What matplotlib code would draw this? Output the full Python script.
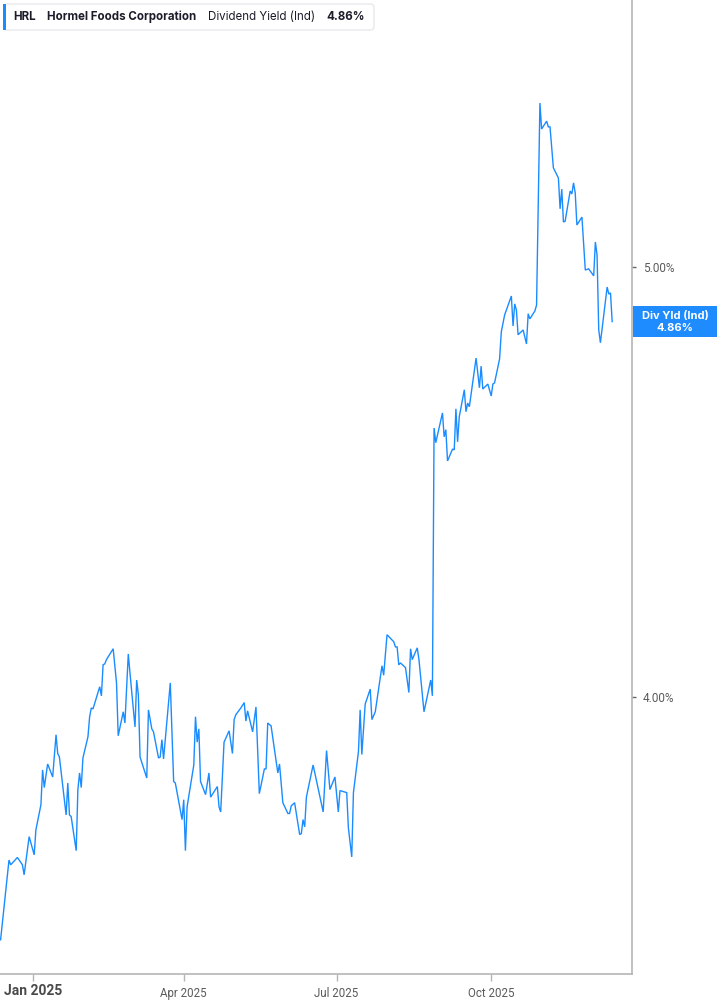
import matplotlib
matplotlib.use("Agg")
import matplotlib.pyplot as plt
import matplotlib.dates as mdates
from matplotlib.patches import FancyBboxPatch, Rectangle
from matplotlib.ticker import FixedLocator, NullLocator
import pandas as pd
import numpy as np

# ---- data ----
dates = [
    "2024-12-13", "2024-12-18", "2024-12-19", "2024-12-23", "2024-12-26", "2024-12-27", "2024-12-30",
    "2025-01-02", "2025-01-03", "2025-01-06", "2025-01-07", "2025-01-08", "2025-01-10", "2025-01-13",
    "2025-01-15", "2025-01-16", "2025-01-17", "2025-01-21", "2025-01-22", "2025-01-23", "2025-01-24",
    "2025-01-27", "2025-01-28", "2025-01-29", "2025-01-30", "2025-01-31", "2025-02-03", "2025-02-04",
    "2025-02-05", "2025-02-06", "2025-02-10", "2025-02-11", "2025-02-12", "2025-02-13", "2025-02-14",
    "2025-02-18", "2025-02-20", "2025-02-21", "2025-02-24", "2025-02-25", "2025-02-27", "2025-02-28",
    "2025-03-03", "2025-03-04", "2025-03-05", "2025-03-06", "2025-03-10", "2025-03-11", "2025-03-13",
    "2025-03-14", "2025-03-17", "2025-03-18", "2025-03-19", "2025-03-20", "2025-03-24", "2025-03-26",
    "2025-03-27", "2025-03-31", "2025-04-01", "2025-04-02", "2025-04-03", "2025-04-07", "2025-04-08",
    "2025-04-09", "2025-04-10", "2025-04-11", "2025-04-14", "2025-04-16", "2025-04-17", "2025-04-21",
    "2025-04-22", "2025-04-23", "2025-04-25", "2025-04-28", "2025-04-30", "2025-05-01", "2025-05-02",
    "2025-05-05", "2025-05-07", "2025-05-08", "2025-05-09", "2025-05-12", "2025-05-14", "2025-05-16",
    "2025-05-19", "2025-05-20", "2025-05-21", "2025-05-23", "2025-05-27", "2025-05-28", "2025-05-30",
    "2025-06-02", "2025-06-03", "2025-06-04", "2025-06-06", "2025-06-09", "2025-06-10", "2025-06-11",
    "2025-06-12", "2025-06-13", "2025-06-17", "2025-06-23", "2025-06-25", "2025-06-27", "2025-06-30",
    "2025-07-02", "2025-07-03", "2025-07-07", "2025-07-08", "2025-07-10", "2025-07-11", "2025-07-14",
    "2025-07-15", "2025-07-16", "2025-07-18", "2025-07-21", "2025-07-22", "2025-07-24", "2025-07-28",
    "2025-07-29", "2025-07-31", "2025-08-04", "2025-08-05", "2025-08-06", "2025-08-07", "2025-08-08",
    "2025-08-11", "2025-08-13", "2025-08-14", "2025-08-15", "2025-08-18", "2025-08-19", "2025-08-22",
    "2025-08-26", "2025-08-27", "2025-08-28", "2025-08-29", "2025-09-02", "2025-09-03", "2025-09-04",
    "2025-09-05", "2025-09-08", "2025-09-09", "2025-09-10", "2025-09-11", "2025-09-12", "2025-09-15",
    "2025-09-16", "2025-09-17", "2025-09-18", "2025-09-22", "2025-09-24", "2025-09-25", "2025-09-26",
    "2025-09-29", "2025-10-01", "2025-10-02", "2025-10-03", "2025-10-06", "2025-10-07", "2025-10-09",
    "2025-10-10", "2025-10-13", "2025-10-14", "2025-10-15", "2025-10-16", "2025-10-17", "2025-10-20",
    "2025-10-22", "2025-10-23", "2025-10-24", "2025-10-27", "2025-10-28", "2025-10-30", "2025-10-31",
    "2025-11-03", "2025-11-04", "2025-11-05", "2025-11-07", "2025-11-10", "2025-11-11", "2025-11-12",
    "2025-11-13", "2025-11-14", "2025-11-17", "2025-11-18", "2025-11-19", "2025-11-20", "2025-11-21",
    "2025-11-24", "2025-11-26", "2025-11-28", "2025-12-01", "2025-12-02", "2025-12-03", "2025-12-04",
    "2025-12-05", "2025-12-09", "2025-12-10", "2025-12-11", "2025-12-12",
]
div_yield = [
    3.526, 3.675, 3.666, 3.680, 3.666, 3.647, 3.720,
    3.685, 3.733, 3.782, 3.851, 3.816, 3.863, 3.837,
    3.922, 3.884, 3.877, 3.762, 3.825, 3.762, 3.759,
    3.693, 3.812, 3.845, 3.816, 3.875, 3.918, 3.959,
    3.977, 3.975, 4.021, 4.002, 4.067, 4.069, 4.078,
    4.101, 4.029, 3.920, 3.969, 3.946, 4.090, 4.050,
    3.938, 4.035, 4.004, 3.877, 3.835, 3.973, 3.934,
    3.928, 3.875, 3.877, 3.912, 3.873, 4.029, 3.828,
    3.825, 3.753, 3.792, 3.693, 3.778, 3.861, 3.959,
    3.907, 3.934, 3.828, 3.802, 3.845, 3.797, 3.818,
    3.778, 3.768, 3.907, 3.930, 3.884, 3.953, 3.963,
    3.977, 3.988, 3.950, 3.971, 3.928, 3.979, 3.804,
    3.853, 3.853, 3.946, 3.940, 3.845, 3.863, 3.786,
    3.765, 3.765, 3.780, 3.786, 3.724, 3.726, 3.753,
    3.739, 3.797, 3.861, 3.768, 3.890, 3.812, 3.837,
    3.768, 3.810, 3.806, 3.737, 3.681, 3.806, 3.888,
    3.973, 3.882, 3.985, 4.016, 3.953, 3.969, 4.065,
    4.045, 4.131, 4.116, 4.105, 4.105, 4.067, 4.071,
    4.061, 4.009, 4.101, 4.078, 4.103, 4.078, 3.969,
    4.035, 4.002, 4.599, 4.564, 4.635, 4.578, 4.595,
    4.521, 4.549, 4.547, 4.645, 4.566, 4.626, 4.691,
    4.638, 4.659, 4.650, 4.769, 4.696, 4.749, 4.693,
    4.705, 4.676, 4.705, 4.708, 4.767, 4.834, 4.877,
    4.889, 4.925, 4.849, 4.905, 4.889, 4.827, 4.839,
    4.804, 4.880, 4.867, 4.887, 4.902, 5.444, 5.371,
    5.393, 5.377, 5.377, 5.264, 5.236, 5.153, 5.206,
    5.118, 5.120, 5.201, 5.193, 5.223, 5.196, 5.110,
    5.131, 4.992, 4.995, 4.977, 5.065, 5.031, 4.839,
    4.807, 4.948, 4.930, 4.933, 4.86,
]
y_ticks = [4.0, 5.0]
y_tick_labels = ["4.00%", "5.00%"]
x_tick_dates = ["2025-01-01", "2025-04-01", "2025-07-01", "2025-10-01"]
x_tick_labels = ["Jan 2025", "Apr 2025", "Jul 2025", "Oct 2025"]
ticker_sym = "HRL"
company = "Hormel Foods Corporation"
metric = "Dividend Yield (Ind)"
last_label = "4.86%"

# ---- figure ----
W, H = 717, 1005
fig = plt.figure(figsize=(W / 100, H / 100), dpi=100)
fig.patch.set_facecolor("white")

def fx(px):
    return px / W

def fy(py):
    return 1 - py / H

ax_left, ax_right, ax_top, ax_bottom = 0, 632, 0, 974
ax = fig.add_axes([fx(ax_left), fy(ax_bottom), fx(ax_right - ax_left), (ax_bottom - ax_top) / H])

line_color = "#1a8cff"
x = pd.to_datetime(dates)
ax.plot(x, div_yield, color=line_color, lw=1.0, solid_joinstyle="miter")

ax.set_yscale("log")
ax.set_ylim(3.464, 5.743)
jan1 = mdates.date2num(pd.Timestamp("2025-01-01"))
ax.set_xlim(jan1 - 19.35, jan1 + 356.8)

for s in ["left", "top"]:
    ax.spines[s].set_visible(False)
for s in ["bottom", "right"]:
    ax.spines[s].set_color("#b5b5b5")
    ax.spines[s].set_linewidth(1.2)

ax.yaxis.tick_right()
ax.yaxis.set_major_locator(FixedLocator(y_ticks))
ax.yaxis.set_minor_locator(NullLocator())
ax.set_yticklabels(y_tick_labels)
ax.tick_params(axis="y", which="major", length=3, width=1, color="#666666",
               labelsize=8.5, labelcolor="#5a5a5a", pad=5)
for lab in ax.get_yticklabels():
    lab.set_fontfamily("Roboto")

ax.xaxis.set_major_locator(FixedLocator(mdates.date2num(pd.to_datetime(x_tick_dates))))
ax.xaxis.set_minor_locator(NullLocator())
ax.set_xticklabels([""] + x_tick_labels[1:])
ax.tick_params(axis="x", which="major", length=5, width=1, color="#b5b5b5",
               labelsize=8.3, labelcolor="#5a5a5a", pad=4)
for lab in ax.get_xticklabels():
    lab.set_fontfamily("Roboto")
# first (year) label is bold and left-aligned at the chart edge
fig.text(fx(4), fy(991), x_tick_labels[0], fontsize=10, fontweight="bold",
         color="#4a4a4a", ha="left", va="center", family="Roboto")

# ---- header box ----
hdr = FancyBboxPatch((fx(4), fy(30)), fx(370), (26) / H,
                     boxstyle="round,pad=0,rounding_size=0.004",
                     transform=fig.transFigure, facecolor="white",
                     edgecolor="#e4e4e8", linewidth=0.8, zorder=5)
fig.patches.append(hdr)
fig.patches.append(Rectangle((fx(3), fy(30)), fx(3), 26 / H, transform=fig.transFigure,
                             facecolor="#1a8cff", edgecolor="none", zorder=6))
hy = fy(17)
hc = "#1c1c2b"
fig.text(fx(13), hy, ticker_sym, fontsize=8.3, fontweight="bold", color=hc,
         va="center", ha="left", family="Inter", zorder=7)
fig.text(fx(47), hy, company, fontsize=8.3, fontweight="bold", color=hc,
         va="center", ha="left", family="Inter", zorder=7)
fig.text(fx(208), hy, metric, fontsize=8.3, color=hc,
         va="center", ha="left", family="Inter", zorder=7)
fig.text(fx(326), hy, last_label, fontsize=8.3, fontweight="bold", color=hc,
         va="center", ha="left", family="Inter", zorder=7)

# ---- last-value label on the right ----
last_val = div_yield[-1]
ypix = ax.transData.transform((ax.get_xlim()[1], last_val))[1]
box_h = 31
fig.patches.append(Rectangle((fx(633), (ypix - box_h / 2) / H), fx(84), box_h / H,
                             transform=fig.transFigure, facecolor="#1e8cff",
                             edgecolor="none", zorder=6))
fig.text(fx(675), (ypix + 6) / H, "Div Yld (Ind)", fontsize=8, fontweight="bold",
         color="white", ha="center", va="center", family="Inter", zorder=7)
fig.text(fx(675), (ypix - 6) / H, last_label, fontsize=8, fontweight="bold",
         color="white", ha="center", va="center", family="Inter", zorder=7)

fig.savefig("out.png", dpi=100, facecolor="white")
